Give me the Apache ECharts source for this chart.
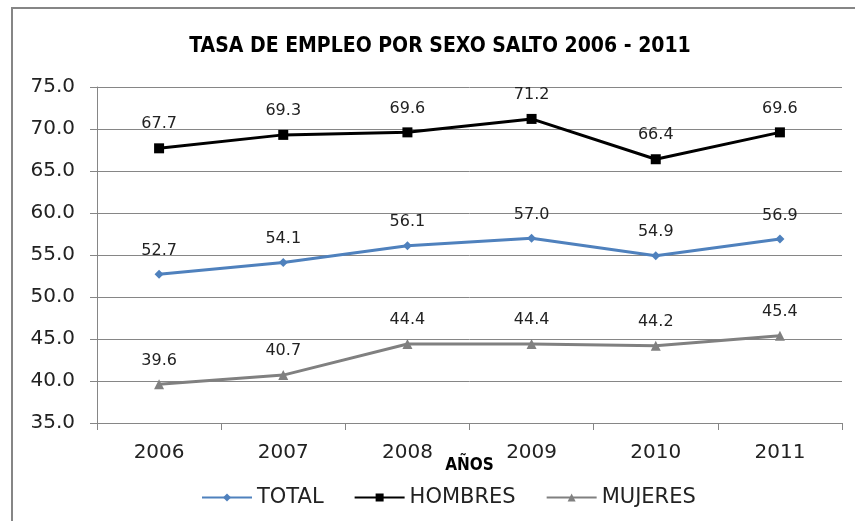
<!DOCTYPE html>
<html>
<head>
<meta charset="utf-8">
<script src="https://cdn.jsdelivr.net/npm/echarts@6/dist/echarts.min.js"></script>
<style>
  html, body { margin: 0; padding: 0; background: #fff; }
  #chart { width: 855px; height: 521px; }
</style>
</head>
<body>
<div id="chart"></div>
<script>
var years = ['2006', '2007', '2008', '2009', '2010', '2011'];
var total = [52.7, 54.1, 56.1, 57.0, 54.9, 56.9];
var hombres = [67.7, 69.3, 69.6, 71.2, 66.4, 69.6];
var mujeres = [39.6, 40.7, 44.4, 44.4, 44.2, 45.4];

var font = '"DejaVu Sans", sans-serif';
var fontNarrow = '"DejaVu Sans Condensed", "DejaVu Sans", sans-serif';

var chart = echarts.init(document.getElementById('chart'));

function line(name, data, color, symbol, size) {
    return {
        name: name,
        type: 'line',
        data: data,
        symbol: symbol,
        symbolSize: size,
        lineStyle: { color: color, width: 3 },
        itemStyle: { color: color },
        label: {
            show: true,
            position: 'top',
            distance: 11,
            color: '#222',
            fontSize: 16,
            fontFamily: font,
            formatter: function (p) { return p.value.toFixed(1); }
        }
    };
}

var option = {
    animation: false,
    backgroundColor: '#fff',
    graphic: [{
        type: 'rect',
        shape: { x: 12, y: 8, width: 900, height: 600 },
        style: { fill: 'none', stroke: '#868686', lineWidth: 2 }
    }],
    title: {
        text: 'TASA DE EMPLEO POR SEXO SALTO 2006 - 2011',
        left: 435,
        textAlign: 'center',
        top: 31,
        textStyle: { fontSize: 21, fontWeight: 'bold', color: '#000', fontFamily: fontNarrow }
    },
    legend: {
        bottom: 8,
        left: 196,
        itemWidth: 50,
        itemHeight: 10,
        itemGap: 30,
        textStyle: { fontSize: 21, color: '#222', fontFamily: font },
        data: ['TOTAL', 'HOMBRES', 'MUJERES']
    },
    grid: { left: 97, right: 13, top: 87, bottom: 98 },
    xAxis: {
        type: 'category',
        data: years,
        boundaryGap: true,
        name: 'AÑOS',
        nameLocation: 'middle',
        nameGap: 34,
        nameMoveOverlap: false,
        nameTextStyle: { fontSize: 17, fontWeight: 'bold', color: '#000', fontFamily: fontNarrow },
        axisLine: { lineStyle: { color: '#868686', width: 1 } },
        axisTick: { show: true, length: 7, lineStyle: { color: '#868686' } },
        axisLabel: { fontSize: 20, color: '#222', margin: 20, fontFamily: font }
    },
    yAxis: {
        type: 'value',
        min: 35,
        max: 75,
        interval: 5,
        axisLine: { show: true, lineStyle: { color: '#868686' } },
        axisTick: { show: true, length: 7, lineStyle: { color: '#868686' } },
        axisLabel: {
            fontSize: 20, color: '#222', margin: 22, fontFamily: font,
            formatter: function (v) { return v.toFixed(1); }
        },
        splitLine: { lineStyle: { color: '#868686', width: 1 } }
    },
    series: [
        line('TOTAL', total, '#4F81BD', 'diamond', 9),
        line('HOMBRES', hombres, '#000000', 'rect', 10),
        line('MUJERES', mujeres, '#808080', 'triangle', 10)
    ]
};

chart.setOption(option);
</script>
</body>
</html>
